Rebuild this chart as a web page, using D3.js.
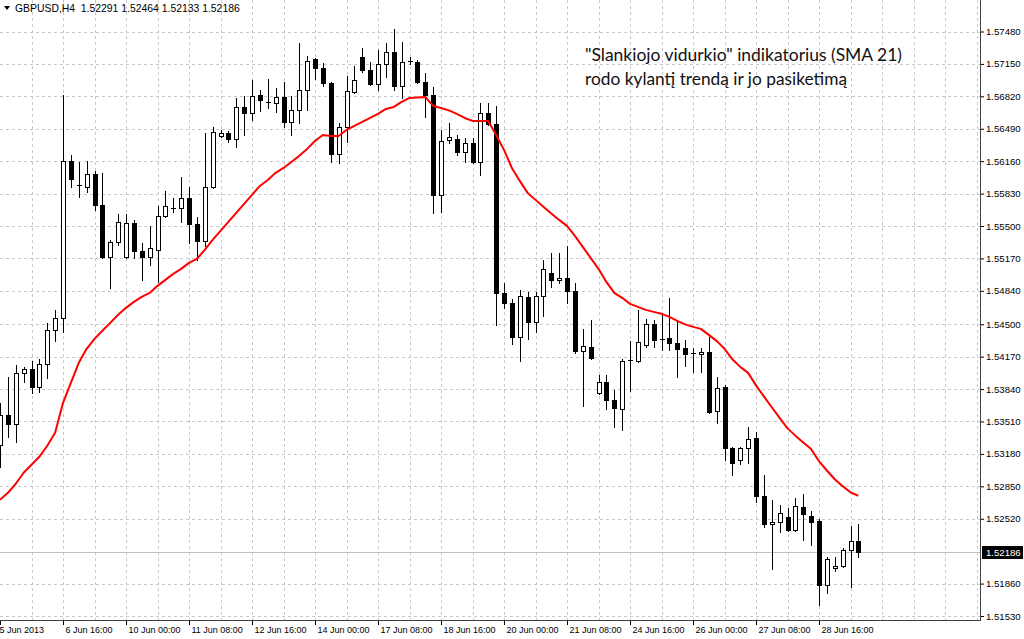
<!DOCTYPE html>
<html>
<head>
<meta charset="utf-8">
<script src="https://cdn.jsdelivr.net/npm/d3@7"></script>
<style>
  html, body { margin: 0; padding: 0; background: #fff; }
  svg { display: block; }
</style>
</head>
<body>
<script>
var width = 1024, height = 639;

// GBPUSD H4, one value per bar (bar 0 = 5 Jun 08:00)
var opens = [1.53273,1.53578,1.53486,1.54005,1.54046,1.53863,1.54097,1.54443,1.54565,1.56163,
  1.55918,1.55898,1.56030,1.55715,1.55186,1.55338,1.55186,1.55532,1.55247,1.55186,
  1.55257,1.55603,1.55684,1.55684,1.55786,1.55522,1.55349,1.55898,1.56417,1.56448,
  1.56386,1.56712,1.56651,1.56834,1.56763,1.56753,1.56814,1.56560,1.56682,1.56885,
  1.57201,1.57109,1.56956,1.56234,1.56509,1.56865,1.57221,1.57089,1.56946,1.57150,
  1.57272,1.56926,1.57180,1.57170,1.56967,1.56834,1.55817,1.56376,1.56386,1.56254,
  1.56346,1.56152,1.56651,1.56539,1.54819,1.54718,1.54372,1.54779,1.54524,1.54789,
  1.55023,1.54952,1.54972,1.54840,1.54229,1.54270,1.53802,1.53914,1.53731,1.53639,
  1.54133,1.54127,1.54290,1.54504,1.54351,1.54361,1.54311,1.54260,1.54209,1.54199,
  1.54219,1.53619,1.53863,1.53242,1.53120,1.53242,1.53344,1.52754,1.52469,1.52489,
  1.52540,1.52408,1.52642,1.52550,1.52499,1.51848,1.52021,1.52041,1.52204,1.52291];

var highs = [1.53700,1.53965,1.54087,1.54066,1.54127,1.54148,1.54514,1.54646,1.56834,1.56224,
  1.56152,1.56163,1.56061,1.56041,1.55359,1.55623,1.55623,1.55562,1.55328,1.55501,
  1.55705,1.55857,1.55786,1.55999,1.55898,1.55593,1.56448,1.56509,1.56478,1.56468,
  1.56804,1.56824,1.56987,1.56885,1.56997,1.56905,1.56967,1.56824,1.57363,1.57231,
  1.57211,1.57160,1.56967,1.56549,1.57028,1.57129,1.57313,1.57170,1.57292,1.57363,
  1.57506,1.57374,1.57221,1.57190,1.57058,1.56916,1.56478,1.56549,1.56427,1.56397,
  1.56397,1.56753,1.56753,1.56722,1.54921,1.54758,1.54850,1.54830,1.54830,1.55155,
  1.55226,1.55226,1.55298,1.54921,1.54453,1.54545,1.53985,1.53985,1.53832,1.54148,
  1.54331,1.54646,1.54555,1.54545,1.54616,1.54769,1.54545,1.54341,1.54260,1.54260,
  1.54372,1.53965,1.53883,1.53247,1.53252,1.53456,1.53405,1.52967,1.52713,1.52662,
  1.52632,1.52733,1.52774,1.52601,1.52520,1.52133,1.52133,1.52225,1.52448,1.52464];

var lows = [1.53049,1.53354,1.53303,1.53914,1.53802,1.53812,1.53954,1.54331,1.54423,1.55898,
  1.55796,1.55847,1.55664,1.55176,1.54870,1.55308,1.55176,1.55176,1.54952,1.55104,
  1.54931,1.55593,1.55644,1.55542,1.55328,1.55155,1.55298,1.55888,1.56407,1.56356,
  1.56305,1.56427,1.56580,1.56671,1.56702,1.56661,1.56509,1.56427,1.56549,1.56682,
  1.56997,1.56926,1.56152,1.56142,1.56356,1.56855,1.57068,1.56936,1.56885,1.57017,
  1.56885,1.56804,1.57150,1.56956,1.56610,1.55634,1.55644,1.56346,1.56224,1.56152,
  1.56142,1.56020,1.56529,1.54494,1.54667,1.54300,1.54127,1.54351,1.54423,1.54585,
  1.54880,1.54921,1.54718,1.54209,1.53670,1.54148,1.53792,1.53639,1.53456,1.53425,
  1.53822,1.54117,1.54270,1.54270,1.54239,1.54239,1.53965,1.54077,1.54015,1.54015,
  1.53598,1.53497,1.53120,1.52967,1.53079,1.53089,1.52693,1.52438,1.52011,1.52387,
  1.52398,1.52398,1.52306,1.52255,1.51645,1.51767,1.51991,1.52031,1.51828,1.52133];

var closes = [1.53578,1.53486,1.54005,1.54046,1.53863,1.54097,1.54443,1.54565,1.56163,1.55979,
  1.55908,1.56030,1.55715,1.55186,1.55338,1.55542,1.55532,1.55247,1.55186,1.55277,
  1.55603,1.55705,1.55679,1.55786,1.55522,1.55349,1.55898,1.56458,1.56448,1.56386,
  1.56712,1.56651,1.56824,1.56783,1.56753,1.56814,1.56560,1.56682,1.56885,1.57180,
  1.57109,1.56956,1.56234,1.56509,1.56875,1.56987,1.57089,1.56946,1.57150,1.57272,
  1.56926,1.57170,1.57165,1.56967,1.56834,1.55817,1.56366,1.56407,1.56254,1.56346,
  1.56152,1.56651,1.56539,1.54819,1.54718,1.54372,1.54789,1.54524,1.54789,1.55064,
  1.54952,1.54972,1.54840,1.54229,1.54280,1.54158,1.53914,1.53731,1.53649,1.54127,
  1.54127,1.54321,1.54504,1.54341,1.54346,1.54311,1.54250,1.54199,1.54204,1.54219,
  1.53608,1.53853,1.53242,1.53089,1.53242,1.53334,1.52754,1.52469,1.52489,1.52581,
  1.52408,1.52652,1.52571,1.52489,1.51848,1.52113,1.52041,1.52204,1.52296,1.52186];

// SMA(21) as drawn on the chart
var sma21 = [1.52713,1.52784,1.52876,1.52988,1.53069,1.53151,1.53262,1.53395,1.53700,1.53904,
  1.54107,1.54250,1.54351,1.54433,1.54514,1.54596,1.54667,1.54728,1.54779,1.54819,
  1.54891,1.54952,1.55013,1.55064,1.55125,1.55165,1.55257,1.55359,1.55450,1.55542,
  1.55633,1.55725,1.55817,1.55908,1.55969,1.56041,1.56091,1.56152,1.56214,1.56285,
  1.56366,1.56427,1.56417,1.56417,1.56478,1.56519,1.56560,1.56600,1.56641,1.56692,
  1.56712,1.56763,1.56804,1.56809,1.56814,1.56722,1.56702,1.56677,1.56641,1.56600,
  1.56570,1.56570,1.56570,1.56427,1.56275,1.56091,1.55959,1.55837,1.55766,1.55695,
  1.55628,1.55562,1.55501,1.55399,1.55287,1.55176,1.55064,1.54931,1.54819,1.54769,
  1.54707,1.54677,1.54646,1.54626,1.54606,1.54575,1.54534,1.54499,1.54473,1.54453,
  1.54392,1.54331,1.54250,1.54143,1.54066,1.54005,1.53878,1.53765,1.53655,1.53547,
  1.53440,1.53366,1.53296,1.53229,1.53106,1.53011,1.52922,1.52852,1.52789,1.52754];

var priceTicks = [1.57480,1.57150,1.56820,1.56490,1.56160,1.55830,1.55500,1.55170,1.54840,
  1.54500,1.54170,1.53840,1.53510,1.53180,1.52850,1.52520,1.51860,1.51530];
var lastPrice = 1.52186;

var timeLabels = ["5 Jun 2013","6 Jun 16:00","10 Jun 00:00","11 Jun 08:00","12 Jun 16:00",
  "14 Jun 00:00","17 Jun 08:00","18 Jun 16:00","20 Jun 00:00","21 Jun 08:00",
  "24 Jun 16:00","26 Jun 00:00","27 Jun 08:00","28 Jun 16:00"];
var timeLabelBars = [0,8,16,24,32,40,48,56,64,72,80,88,96,104];

var header = "GBPUSD,H4  1.52291 1.52464 1.52133 1.52186";
var note = ["\"Slankiojo vidurkio\" indikatorius (SMA 21)", "rodo kylantį trendą ir jo pasiketimą"];

var plotRight = 980, plotBottom = 620;
var axisFont = "'Liberation Sans', Arial, sans-serif";

var x = d3.scaleLinear().domain([0, 124]).range([0, 976.5]);
var y = d3.scaleLinear().domain([1.5153, 1.5748]).range([616, 31.5]);

var svg = d3.select("body").append("svg")
  .attr("width", width)
  .attr("height", height);

svg.append("rect")
  .attr("width", width)
  .attr("height", height)
  .attr("fill", "#fff");

// grid
var grid = svg.append("g").attr("class", "grid");

grid.selectAll("line.h")
  .data(priceTicks)
  .enter()
  .append("line")
  .attr("x1", 0)
  .attr("x2", plotRight)
  .attr("y1", d => Math.round(y(d)) + 0.5)
  .attr("y2", d => Math.round(y(d)) + 0.5)
  .attr("stroke", "#c8c8c8")
  .attr("stroke-dasharray", "3,3");

grid.selectAll("line.v")
  .data(d3.range(4, 125, 4))
  .enter()
  .append("line")
  .attr("x1", d => Math.round(x(d)) + 0.5)
  .attr("x2", d => Math.round(x(d)) + 0.5)
  .attr("y1", 0)
  .attr("y2", plotBottom)
  .attr("stroke", "#c8c8c8")
  .attr("stroke-dasharray", "3,3");

// last price line
svg.append("line")
  .attr("x1", 0)
  .attr("x2", plotRight)
  .attr("y1", Math.round(y(lastPrice)) + 0.5)
  .attr("y2", Math.round(y(lastPrice)) + 0.5)
  .attr("stroke", "#c0c0c0");

// candles
var bars = d3.range(opens.length).map(i => ({
  i: i, o: opens[i], h: highs[i], l: lows[i], c: closes[i]
}));

var candles = svg.append("g").attr("class", "candles");

candles.selectAll("line.wick")
  .data(bars)
  .enter()
  .append("line")
  .attr("x1", d => Math.round(x(d.i)) + 0.5)
  .attr("x2", d => Math.round(x(d.i)) + 0.5)
  .attr("y1", d => Math.round(y(d.h)))
  .attr("y2", d => Math.round(y(d.l)) + 1)
  .attr("stroke", "#000");

bars.forEach(function(d) {
  var xc = Math.round(x(d.i));
  var top = Math.round(y(Math.max(d.o, d.c)));
  var bot = Math.round(y(Math.min(d.o, d.c)));
  if (bot - top < 2) {
    candles.append("line")
      .attr("x1", xc - 2)
      .attr("x2", xc + 3)
      .attr("y1", top + 0.5)
      .attr("y2", top + 0.5)
      .attr("stroke", "#000");
  } else if (d.c > d.o) {
    candles.append("rect")
      .attr("x", xc - 1.5)
      .attr("y", top + 0.5)
      .attr("width", 4)
      .attr("height", bot - top)
      .attr("fill", "#fff")
      .attr("stroke", "#000");
  } else {
    candles.append("rect")
      .attr("x", xc - 2)
      .attr("y", top)
      .attr("width", 5)
      .attr("height", bot - top + 1)
      .attr("fill", "#000");
  }
});

// moving average
var lineGen = d3.line()
  .x((d, i) => x(i))
  .y(d => y(d));

svg.append("path")
  .datum(sma21)
  .attr("d", lineGen)
  .attr("fill", "none")
  .attr("stroke", "#ff0000")
  .attr("stroke-width", 2)
  .attr("stroke-linejoin", "round");

// borders
svg.append("line")
  .attr("x1", plotRight + 0.5).attr("x2", plotRight + 0.5)
  .attr("y1", 0).attr("y2", plotBottom + 1)
  .attr("stroke", "#404040");
svg.append("line")
  .attr("x1", 0).attr("x2", plotRight + 1)
  .attr("y1", plotBottom + 0.5).attr("y2", plotBottom + 0.5)
  .attr("stroke", "#404040");

// price axis
var yAxis = svg.append("g")
  .attr("transform", "translate(" + (plotRight + 1) + ",0)")
  .call(d3.axisRight(y).tickValues(priceTicks).tickSize(3).tickFormat(d3.format(".5f")));
yAxis.select(".domain").remove();
yAxis.selectAll("text")
  .attr("x", 5)
  .attr("font-family", axisFont)
  .attr("font-size", "9.6px")
  .attr("fill", "#000");

// time axis
var xAxis = svg.append("g")
  .attr("transform", "translate(0," + (plotBottom + 1) + ")")
  .call(d3.axisBottom(x).tickValues(timeLabelBars).tickSize(4).tickFormat((d, i) => timeLabels[i]));
xAxis.select(".domain").remove();
xAxis.selectAll("text")
  .attr("text-anchor", "start")
  .attr("x", d => d === 0 ? -1 : 2)
  .attr("y", 6)
  .attr("font-family", axisFont)
  .attr("font-size", "9px")
  .attr("fill", "#000");

// last price tag
svg.append("rect")
  .attr("x", plotRight + 2)
  .attr("y", Math.round(y(lastPrice)) - 6)
  .attr("width", 41)
  .attr("height", 13)
  .attr("fill", "#000");
svg.append("text")
  .attr("x", plotRight + 6)
  .attr("y", Math.round(y(lastPrice)) + 4)
  .attr("font-family", axisFont)
  .attr("font-size", "9.6px")
  .attr("fill", "#fff")
  .text(d3.format(".5f")(lastPrice));

// header
svg.append("path")
  .attr("d", "M4,6 L10,6 L7,10 Z")
  .attr("fill", "#000");
svg.append("text")
  .attr("x", 15)
  .attr("y", 12)
  .attr("font-family", axisFont)
  .attr("font-size", "10.4px")
  .attr("fill", "#000")
  .attr("xml:space", "preserve")
  .style("white-space", "pre")
  .text(header);

// annotation
var noteWidths = [317, 262];
svg.selectAll("text.note")
  .data(note)
  .enter()
  .append("text")
  .attr("class", "note")
  .attr("x", 585)
  .attr("y", (d, i) => 61 + i * 24)
  .attr("font-family", "Lato, 'Open Sans', sans-serif")
  .attr("font-size", "18px")
  .attr("fill", "#111")
  .attr("textLength", (d, i) => noteWidths[i])
  .attr("lengthAdjust", "spacingAndGlyphs")
  .text(d => d);
</script>
</body>
</html>
